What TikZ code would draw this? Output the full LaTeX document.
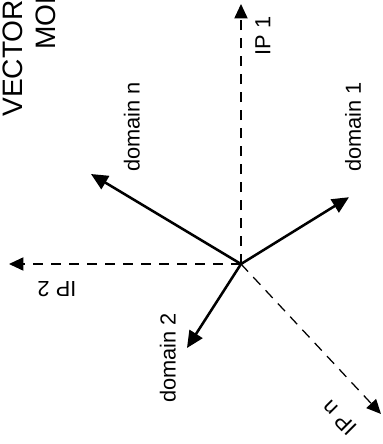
\documentclass[tikz,border=0pt]{standalone}
\usepackage{fontspec}
\setmainfont{Liberation Sans}
\usetikzlibrary{arrows.meta}
\tikzset{
  axis/.style={-{Triangle[length=3.6mm,width=3.3mm]},line width=0.9pt,dash pattern=on 2.6mm off 1.9mm},
  vec/.style={-{Triangle[length=4.2mm,width=3.8mm]},line width=1.8pt},
  lbl/.style={font=\fontsize{15.5}{18}\selectfont,inner sep=0pt},
  ttl/.style={font=\fontsize{20}{24}\selectfont,inner sep=0pt,anchor=west,rotate=90}
}
\begin{document}
\begin{tikzpicture}
  \useasboundingbox (-6.025,-4.5) rectangle (3.55,6.6);
  \clip (-6.025,-4.5) rectangle (3.55,6.6);
  % title
  \node[ttl] (ttla) at (-5.7,3.675) {VECTOR};
  \node[ttl] (ttlb) at (-4.875,5.35) {MOD};
  % axes
  \coordinate (O) at (0,0);
  \coordinate (ip1) at (0,6.5);
  \coordinate (ip2) at (-5.8,0);
  \coordinate (ipn) at (3.5,-3.75);
  \draw[axis] (O) -- (ip1);
  \draw[axis] (O) -- (ip2);
  \draw[axis] (O) -- (ipn);
  \node[lbl,rotate=90] (lip1) at (0.55,5.7) {IP 1};
  \node[lbl,rotate=180] (lip2) at (-4.6,-0.62) {IP 2};
  \node[lbl,rotate=135] (lipn) at (2.45,-3.85) {IP n};
  % domain vectors
  \coordinate (d1) at (2.7,1.67);
  \coordinate (d2) at (-1.35,-2.1);
  \coordinate (dn) at (-3.75,2.25);
  \draw[vec] (O) -- (d1);
  \draw[vec] (O) -- (d2);
  \draw[vec] (O) -- (dn);
  \node[lbl,rotate=90] (ld1) at (2.8,3.43) {domain 1};
  \node[lbl,rotate=90] (ld2) at (-1.83,-2.35) {domain 2};
  \node[lbl,rotate=90] (ldn) at (-2.73,3.43) {domain n};
\end{tikzpicture}
\end{document}
